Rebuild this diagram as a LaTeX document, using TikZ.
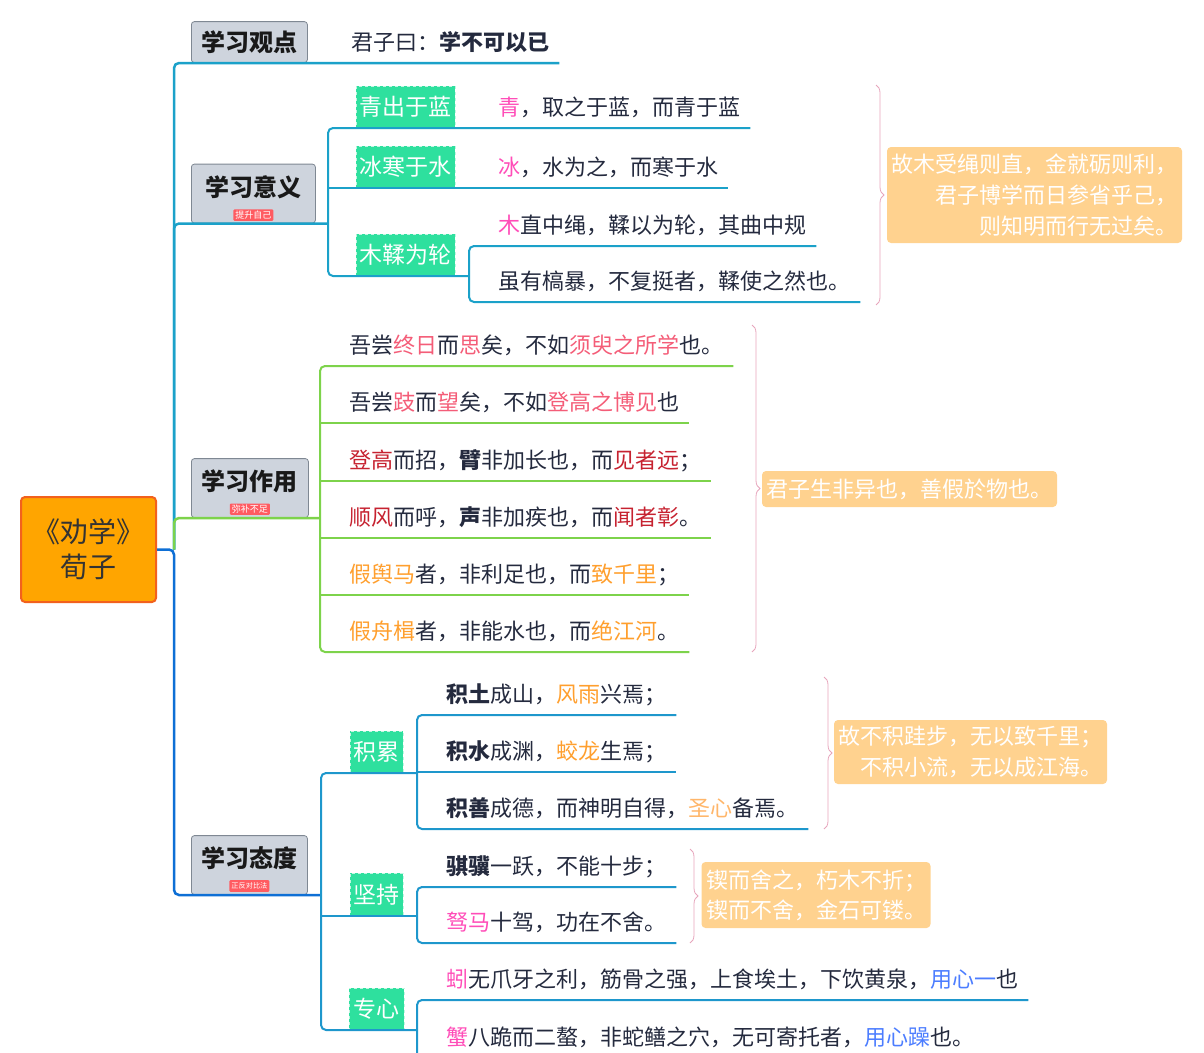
\documentclass[tikz,border=0pt]{standalone}
\usepackage{fontspec}
\setmainfont{Noto Sans CJK SC}
\usetikzlibrary{positioning,decorations.pathreplacing}

\definecolor{rootfill}{HTML}{FFA500}
\definecolor{rootedge}{HTML}{F2611D}
\definecolor{topicfill}{HTML}{CED4DD}
\definecolor{topicedge}{HTML}{7F8893}
\definecolor{tagred}{HTML}{FF5B61}
\definecolor{subgreen}{HTML}{2EE09E}
\definecolor{sumfill}{HTML}{FFD28F}
\definecolor{bracepink}{HTML}{E7A5BC}
\definecolor{ink}{HTML}{242A3E}
\definecolor{lnteal}{HTML}{1BA1C9}
\definecolor{lngreen}{HTML}{7DD34B}
\definecolor{lnblue}{HTML}{0E6FD5}
\definecolor{lnsky}{HTML}{1E97CC}
\definecolor{hpink}{HTML}{FF4DB8}
\definecolor{hsalmon}{HTML}{F45D78}
\definecolor{hred}{HTML}{C62230}
\definecolor{horange}{HTML}{FF9F2E}
\definecolor{hpeach}{HTML}{FFB66A}
\definecolor{hblue}{HTML}{4C7DFF}

\newcommand{\hl}[2]{\textcolor{#1}{#2}}
\newcommand{\kw}[1]{\textbf{#1}}

\tikzset{
  root/.style={draw=rootedge, fill=rootfill, line width=2pt, rounded corners=4pt,
    minimum width=135pt, minimum height=105pt, align=center, text=black!80,
    font=\fontsize{28}{35}\selectfont},
  topic/.style={draw=topicedge, fill=topicfill, line width=0.8pt, rounded corners=3pt,
    anchor=south west, inner sep=0pt, text=black!90, font=\fontsize{24}{28}\selectfont\bfseries},
  tag/.style={fill=tagred, text=white, rounded corners=1pt, inner xsep=2pt, inner ysep=1.5pt,
    font=\fontsize{9}{10}\selectfont},
  sub/.style={fill=subgreen, draw=white!70!subgreen, dashed, anchor=south west, inner sep=0pt,
    minimum height=42pt, text=white, font=\fontsize{23}{26}\selectfont},
  leaf/.style={anchor=south west, inner sep=0pt, text depth=12pt, text=ink,
    font=\fontsize{22}{26}\selectfont,
    execute at begin node={\hspace*{29pt}}, execute at end node={\hspace*{10pt}}},
  summary/.style={fill=sumfill, rounded corners=4pt, inner xsep=4.5pt, text=white,
    font=\fontsize{22}{31}\selectfont},
  curly/.style={draw=bracepink, line width=0.8pt, decorate, decoration={brace, amplitude=8pt}},
  trunk/.style={line width=2.5pt, rounded corners=5pt},
  twig/.style={line width=2pt, rounded corners=5pt},
}

\begin{document}
\begin{tikzpicture}[x=1pt, y=-1pt]
\useasboundingbox (0,0) rectangle (1204,1052);
\clip (0,0) rectangle (1204,1052);

\node[root] (jx) at (88.5,549.5) {《劝学》\\荀子};
\coordinate (hub) at (174,549.5);

% 学习观点
\node[topic, minimum width=116pt, minimum height=41pt] (gd) at (191,63) {学习观点};
\node[leaf] (gd1) at (322,63) {君子曰：\kw{学不可以已}};

% 学习意义
\node[topic, minimum width=124pt, minimum height=59pt, text depth=16pt] (yy) at (191,223.5) {学习意义};
\node[tag, above=2.5pt of yy.south] (yyt) {提升自己};
\coordinate (yyb) at (328,223.5);
\node[sub, minimum width=99pt] (qc) at (356,128) {青出于蓝};
\node[sub, minimum width=99pt] (bh) at (356,188) {冰寒于水};
\node[sub, minimum width=99pt] (mr) at (356,276) {木鞣为轮};
\node[leaf] (qc1) at (469,128) {\hl{hpink}{青}，取之于蓝，而青于蓝};
\node[leaf] (bh1) at (469,188) {\hl{hpink}{冰}，水为之，而寒于水};
\coordinate (mrb) at (469,276);
\node[leaf] (mr1) at (469,246) {\hl{hpink}{木}直中绳，鞣以为轮，其曲中规};
\node[leaf] (mr2) at (469,302) {虽有槁暴，不复挺者，鞣使之然也。};
\draw[curly] (876,85) -- (876,305);
\node[summary, align=right, minimum width=295pt, minimum height=96pt] (yys) at (1034.5,195)
  {故木受绳则直，金就砺则利，\\君子博学而日参省乎己，\\则知明而行无过矣。};

% 学习作用
\node[topic, minimum width=117pt, minimum height=59pt, text depth=16pt] (zy) at (191,518) {学习作用};
\node[tag, above=3pt of zy.south] (zyt) {弥补不足};
\coordinate (zyb) at (320,518);
\node[leaf] (zy1) at (320,366) {吾尝\hl{hsalmon}{终日}而\hl{hsalmon}{思}矣，不如\hl{hsalmon}{须臾之所学}也。};
\node[leaf] (zy2) at (320,423) {吾尝\hl{hsalmon}{跂}而\hl{hsalmon}{望}矣，不如\hl{hsalmon}{登高之博见}也};
\node[leaf] (zy3) at (320,481) {\hl{hred}{登高}而招，\kw{臂}非加长也，而\hl{hred}{见者远}；};
\node[leaf] (zy4) at (320,538) {\hl{hred}{顺风}而呼，\kw{声}非加疾也，而\hl{hred}{闻者彰}。};
\node[leaf] (zy5) at (320,595) {\hl{horange}{假舆马}者，非利足也，而\hl{horange}{致千里}；};
\node[leaf] (zy6) at (320,652) {\hl{horange}{假舟楫}者，非能水也，而\hl{horange}{绝江河}。};
\draw[curly] (752,325) -- (752,652);
\node[summary, minimum width=295pt, minimum height=36pt] (zys) at (909.5,489) {君子生非异也，善假於物也。};

% 学习态度
\node[topic, minimum width=116pt, minimum height=59pt, text depth=16pt] (td) at (191,895) {学习态度};
\node[tag, font=\fontsize{7.2}{8}\selectfont, inner ysep=2.5pt, above=3pt of td.south] (tdt) {正反对比法};
\coordinate (tdb) at (321,895);
\node[sub, minimum width=53pt] (jl) at (350,773) {积累};
\coordinate (jlb) at (417,773);
\node[leaf] (jl1) at (417,715) {\kw{积土}成山，\hl{horange}{风雨}兴焉；};
\node[leaf] (jl2) at (417,772) {\kw{积水}成渊，\hl{horange}{蛟龙}生焉；};
\node[leaf] (jl3) at (417,829) {\kw{积善}成德，而神明自得，\hl{hpeach}{圣心}备焉。};
\draw[curly] (824,677) -- (824,829);
\node[summary, align=right, minimum width=273pt, minimum height=64pt] (jls) at (970.5,752)
  {故不积跬步，无以致千里；\\不积小流，无以成江海。};
\node[sub, minimum width=53pt, minimum height=43pt] (jc) at (350,916) {坚持};
\coordinate (jcb) at (417,916);
\node[leaf] (jc1) at (417,887) {\kw{骐骥}一跃，不能十步；};
\node[leaf] (jc2) at (417,943) {\hl{hpink}{驽马}十驾，功在不舍。};
\draw[curly] (690,849) -- (690,943);
\node[summary, align=left, minimum width=228pt, minimum height=66pt, font=\fontsize{22}{30}\selectfont] (jcs) at (816,895)
  {锲而舍之，朽木不折；\\锲而不舍，金石可镂。};
\node[sub, minimum width=55pt] (zx) at (349,1030) {专心};
\coordinate (zxb) at (417,1030);
\node[leaf] (zx1) at (417,1000) {\hl{hpink}{蚓}无爪牙之利，筋骨之强，上食埃土，下饮黄泉，\hl{hblue}{用心一}也};
\node[leaf] (zx2) at (417,1058) {\hl{hpink}{蟹}八跪而二螯，非蛇鳝之穴，无可寄托者，\hl{hblue}{用心躁}也。};

% branches
\draw[trunk, lnteal] (hub) |- (gd.south west) -- (gd1.south east);
\draw[trunk, lnteal] (hub) |- (yy.south west) -- (yyb);
\draw[twig, lnteal] (qc1.south east) -- (yyb |- qc1.south) -- (yyb |- mrb) -- (mrb);
\draw[twig, lnteal] (yyb |- bh.south) -- (bh1.south east);
\draw[twig, lnteal] (mr1.south east) -- (mr1.south west) -- (mr2.south west) -- (mr2.south east);
\draw[trunk, lngreen] (hub) |- (zy.south west) -- (zyb);
\draw[twig, lngreen] (zy1.south east) -- (zy1.south west) -- (zy6.south west) -- (zy6.south east);
\foreach \k in {2,...,5}
  \draw[twig, lngreen] (zy\k.south west) -- (zy\k.south east);
\draw[trunk, lnblue] (jx.east) -- (hub) |- (td.south west) -- (tdb);
\draw[twig, lnsky] (jlb) -- (tdb |- jl.south) -- (tdb |- zx.south) -- (zxb);
\draw[twig, lnsky] (tdb |- jc.south) -- (jcb);
\draw[twig, lnsky] (jl1.south east) -- (jl1.south west) -- (jl3.south west) -- (jl3.south east);
\draw[twig, lnsky] (jl2.south west) -- (jl2.south east);
\draw[twig, lnsky] (jc1.south east) -- (jc1.south west) -- (jc2.south west) -- (jc2.south east);
\draw[twig, lnsky] (zx1.south east) -- (zx1.south west) -- (zx2.south west) -- (zx2.south east);
\end{tikzpicture}
\end{document}
